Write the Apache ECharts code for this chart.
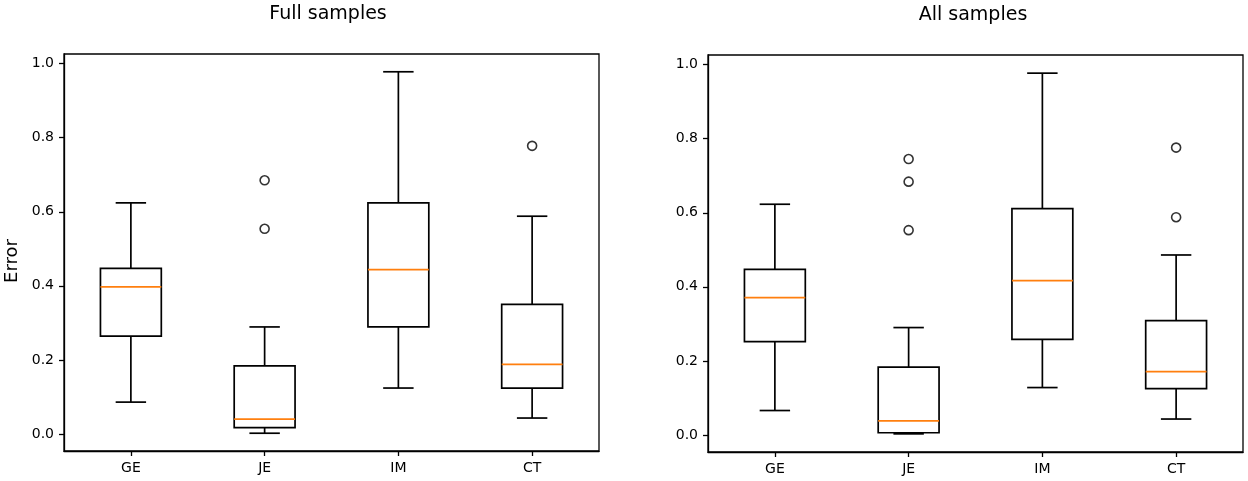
<!DOCTYPE html>
<html>
<head>
<meta charset="utf-8">
<script src="https://cdn.jsdelivr.net/npm/echarts@6/dist/echarts.min.js"></script>
<style>
html,body{margin:0;padding:0;background:#fff;}
#chart{width:1248px;height:481px;}
</style>
</head>
<body>
<div id="chart"></div>
<script>
// ---- data ----
const categories = ['GE', 'JE', 'IM', 'CT'];
const yTickValues = [0, 0.2, 0.4, 0.6, 0.8, 1.0];

// Full samples
const fullWhiskerLow  = [0.086, 0.002, 0.124, 0.043];
const fullQ1          = [0.264, 0.017, 0.289, 0.124];
const fullMedian      = [0.397, 0.040, 0.444, 0.188];
const fullQ3          = [0.447, 0.184, 0.624, 0.350];
const fullWhiskerHigh = [0.624, 0.289, 0.978, 0.588];
const fullOutliers    = [['JE', 0.685], ['JE', 0.554], ['CT', 0.778]];

// All samples
const allWhiskerLow  = [0.066, 0.003, 0.128, 0.043];
const allQ1          = [0.252, 0.006, 0.258, 0.125];
const allMedian      = [0.371, 0.038, 0.417, 0.171];
const allQ3          = [0.447, 0.183, 0.611, 0.309];
const allWhiskerHigh = [0.623, 0.290, 0.977, 0.486];
const allOutliers    = [['JE', 0.745], ['JE', 0.684], ['JE', 0.553], ['CT', 0.776], ['CT', 0.588]];

const FONT = 'DejaVu Sans';

function boxData(lo, q1, med, q3, hi) {
  return categories.map((c, i) => [i, lo[i], q1[i], med[i], q3[i], hi[i]]);
}

function renderBox(params, api) {
  const idx = api.value(0);
  const pLo = api.coord([idx, api.value(1)]);
  const pQ1 = api.coord([idx, api.value(2)]);
  const pMed = api.coord([idx, api.value(3)]);
  const pQ3 = api.coord([idx, api.value(4)]);
  const pHi = api.coord([idx, api.value(5)]);
  const band = api.size([1, 0])[0];
  const bw = band * 0.455;
  const cw = bw / 2;
  const x = pMed[0];
  const blk = { stroke: '#000', lineWidth: 1.7, fill: null };
  return {
    type: 'group',
    children: [
      { type: 'line', shape: { x1: x, y1: pQ1[1], x2: x, y2: pLo[1] }, style: blk },
      { type: 'line', shape: { x1: x, y1: pQ3[1], x2: x, y2: pHi[1] }, style: blk },
      { type: 'line', shape: { x1: x - cw / 2, y1: pLo[1], x2: x + cw / 2, y2: pLo[1] }, style: blk },
      { type: 'line', shape: { x1: x - cw / 2, y1: pHi[1], x2: x + cw / 2, y2: pHi[1] }, style: blk },
      { type: 'rect', shape: { x: x - bw / 2, y: pQ3[1], width: bw, height: pQ1[1] - pQ3[1] }, style: { stroke: '#000', lineWidth: 1.7, fill: 'rgba(0,0,0,0)' } },
      { type: 'line', shape: { x1: x - bw / 2, y1: pMed[1], x2: x + bw / 2, y2: pMed[1] }, style: { stroke: '#ff7f0e', lineWidth: 1.7 } }
    ]
  };
}

function xAxisCfg(gi) {
  return {
    type: 'category', gridIndex: gi, data: categories, boundaryGap: true,
    axisLine: { show: true, onZero: false, lineStyle: { color: '#000', width: 1.3 } },
    axisTick: { show: true, alignWithLabel: true, length: 5, lineStyle: { color: '#000', width: 1.3 } },
    axisLabel: { color: '#000', fontFamily: FONT, fontSize: 14, margin: 10 },
    splitLine: { show: false }
  };
}
function yAxisCfg(gi) {
  return {
    type: 'value', gridIndex: gi, min: -0.046, max: 1.026,
    axisLine: { show: true, onZero: false, lineStyle: { color: '#000', width: 1.3 } },
    axisTick: { show: true, length: 5, lineStyle: { color: '#000', width: 1.3 }, customValues: yTickValues },
    axisLabel: { color: '#000', fontFamily: FONT, fontSize: 14, margin: 10, customValues: yTickValues, formatter: v => Number(v).toFixed(1) },
    splitLine: { show: false }
  };
}

const chart = echarts.init(document.getElementById('chart'), null, { renderer: 'canvas' });
chart.setOption({
  backgroundColor: '#fff',
  animation: false,
  title: [
    { text: 'Full samples', left: 323, top: 0, textAlign: 'center', textStyle: { fontFamily: FONT, fontSize: 19, fontWeight: 'normal', color: '#000' } },
    { text: 'All samples', left: 968, top: 1, textAlign: 'center', textStyle: { fontFamily: FONT, fontSize: 19, fontWeight: 'normal', color: '#000' } }
  ],
  grid: [
    { left: 64, width: 535, top: 54, height: 397, show: true, borderColor: '#000', borderWidth: 1.3, backgroundColor: 'transparent' },
    { left: 708, width: 535, top: 55, height: 397, show: true, borderColor: '#000', borderWidth: 1.3, backgroundColor: 'transparent' }
  ],
  xAxis: [xAxisCfg(0), xAxisCfg(1)],
  yAxis: [yAxisCfg(0), yAxisCfg(1)],
  graphic: [
    { type: 'text', x: 12, y: 261, rotation: Math.PI / 2, style: { text: 'Error', font: '18px "DejaVu Sans"', fill: '#000', textAlign: 'center', textVerticalAlign: 'middle' } }
  ],
  series: [
    { type: 'custom', xAxisIndex: 0, yAxisIndex: 0, renderItem: renderBox, encode: { x: 0, y: [1, 2, 3, 4, 5] },
      data: boxData(fullWhiskerLow, fullQ1, fullMedian, fullQ3, fullWhiskerHigh) },
    { type: 'scatter', xAxisIndex: 0, yAxisIndex: 0, data: fullOutliers, symbol: 'circle', symbolSize: 9,
      itemStyle: { color: 'rgba(0,0,0,0)', borderColor: '#000', borderWidth: 1.6 } },
    { type: 'custom', xAxisIndex: 1, yAxisIndex: 1, renderItem: renderBox, encode: { x: 0, y: [1, 2, 3, 4, 5] },
      data: boxData(allWhiskerLow, allQ1, allMedian, allQ3, allWhiskerHigh) },
    { type: 'scatter', xAxisIndex: 1, yAxisIndex: 1, data: allOutliers, symbol: 'circle', symbolSize: 9,
      itemStyle: { color: 'rgba(0,0,0,0)', borderColor: '#000', borderWidth: 1.6 } }
  ]
});
</script>
</body>
</html>
